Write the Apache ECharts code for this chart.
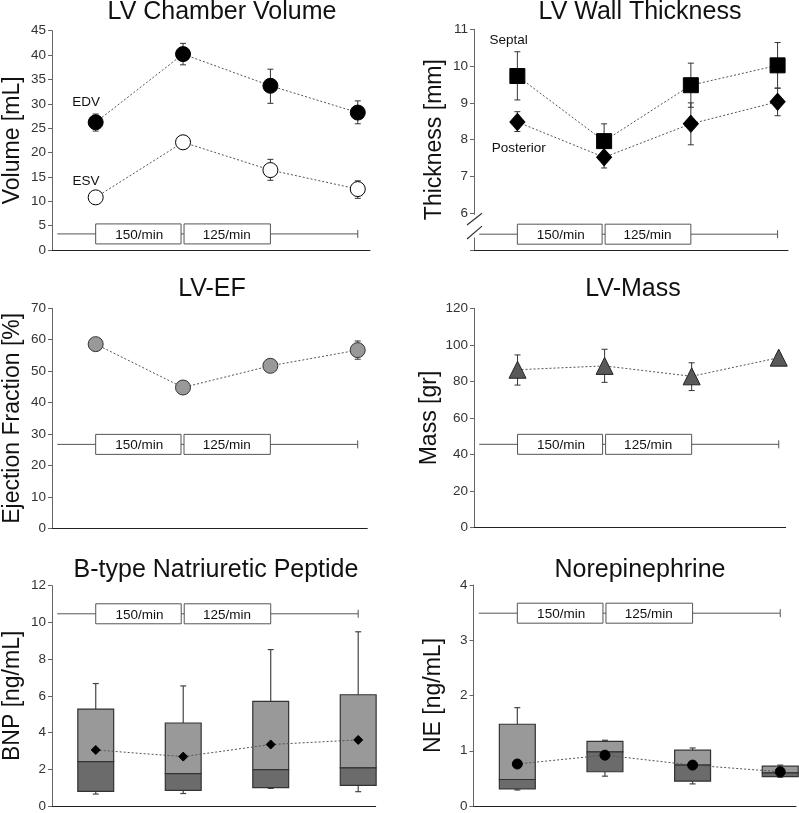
<!DOCTYPE html>
<html><head><meta charset="utf-8">
<script src="https://cdn.jsdelivr.net/npm/echarts@6/dist/echarts.min.js"></script>
<style>html,body{margin:0;padding:0;background:#fff}#c{width:799px;height:813px}</style>
</head><body><div id="c"></div>
<script>
// ---------------- DATA ----------------
const timepoints = [1, 2, 3, 4];
const paceLabels = ['150/min', '125/min'];

// LV Chamber Volume
const edvMean = [26.2, 40.2, 33.7, 28.2];
const edvLow  = [24.4, 38.0, 30.1, 25.9];
const edvHigh = [27.9, 42.4, 37.1, 30.6];
const esvMean = [10.8, 22.1, 16.4, 12.5];
const esvLow  = [10.2, 21.4, 14.3, 10.6];
const esvHigh = [11.4, 22.8, 18.6, 14.2];

// LV Wall Thickness
const septalMean = [9.73, 7.96, 9.48, 10.02];
const septalLow  = [9.08, 7.49, 8.88, 9.40];
const septalHigh = [10.39, 8.43, 10.08, 10.64];
const posteriorMean = [8.48, 7.52, 8.43, 9.03];
const posteriorLow  = [8.22, 7.23, 7.86, 8.65];
const posteriorHigh = [8.76, 7.80, 9.00, 9.40];

// LV-EF
const efMean = [58.6, 44.8, 51.7, 56.7];
const efLow  = [57.6, 43.8, 50.8, 53.8];
const efHigh = [59.6, 45.8, 52.6, 59.6];

// LV-Mass
const massMean = [86.4, 88.5, 82.8, 93.0];
const massLow  = [78.0, 79.5, 75.0, 91.5];
const massHigh = [94.5, 97.6, 90.2, 94.5];

// BNP (box plots)
const bnpMin    = [0.65, 0.68, 0.96, 0.78];
const bnpQ1     = [0.80, 0.85, 1.00, 1.12];
const bnpMedian = [2.42, 1.76, 1.98, 2.08];
const bnpQ3     = [5.28, 4.52, 5.70, 6.06];
const bnpMax    = [6.67, 6.54, 8.52, 9.49];
const bnpMean   = [3.05, 2.69, 3.35, 3.60];

// Norepinephrine (box plots)
const neMin    = [0.29, 0.54, 0.40, 0.52];
const neQ1     = [0.31, 0.62, 0.45, 0.53];
const neMedian = [0.48, 0.98, 0.74, 0.60];
const neQ3     = [1.48, 1.17, 1.01, 0.72];
const neMax    = [1.78, 1.19, 1.05, 0.74];
const neMean   = [0.76, 0.92, 0.74, 0.62];

// texts
const panelTitles = ['LV Chamber Volume', 'LV Wall Thickness', 'LV-EF', 'LV-Mass', 'B-type Natriuretic Peptide', 'Norepinephrine'];
const yAxisNames = ['Volume [mL]', 'Thickness [mm]', 'Ejection Fraction [%]', 'Mass [gr]', 'BNP [ng/mL]', 'NE [ng/mL]'];
const yMin = [0, 5, 0, 0, 0, 0];
const yMax = [45, 11, 70, 120, 12, 4];
const yStep = [5, 1, 10, 20, 2, 1];

// ---------------- LAYOUT / STYLE ----------------
const FONT = 'Liberation Sans, Arial, sans-serif';
const grids = [
  {left: 52,    top: 30.7,  width: 318,   height: 219.3},
  {left: 474,   top: 29.3,  width: 314,   height: 220.7},
  {left: 52,    top: 308.3, width: 315.3, height: 220},
  {left: 474,   top: 308.3, width: 311.7, height: 219.4},
  {left: 52,    top: 585.7, width: 323.7, height: 222},
  {left: 473.5, top: 585,   width: 322.5, height: 222.3}
];
const xMaxes = [4.14, 4.12, 4.11, 4.08, 4.2, 4.18];
const titlePos = [[222, 0], [640, 0], [212, 277], [633, 277], [216, 558], [640, 558]];
const timelineY = [3.3, 5.43, 26.7, 45.6, 10.47, 3.49];
const TL_START = 0.56;

const series = [];

function lineSeries(idx, means, symbol, size, fill, stroke) {
  return {
    type: 'line', xAxisIndex: idx, yAxisIndex: idx, z: 4,
    data: timepoints.map((t, i) => [t, means[i]]),
    symbol: symbol, symbolSize: size, showAllSymbol: true,
    itemStyle: {color: fill, borderColor: stroke, borderWidth: 1, opacity: 1},
    lineStyle: {color: '#555', width: 1, type: [2, 2]},
    emphasis: {disabled: true}, silent: true
  };
}

function errSeries(idx, low, high) {
  return {
    type: 'custom', xAxisIndex: idx, yAxisIndex: idx, z: 3, silent: true,
    data: timepoints.map((t, i) => [t, low[i], high[i]]),
    encode: {x: 0, y: [1, 2]},
    renderItem: function (params, api) {
      const x = api.value(0);
      const lo = api.coord([x, api.value(1)]);
      const hi = api.coord([x, api.value(2)]);
      const st = {stroke: '#333', lineWidth: 1};
      return {type: 'group', children: [
        {type: 'line', shape: {x1: lo[0], y1: lo[1], x2: hi[0], y2: hi[1]}, style: st},
        {type: 'line', shape: {x1: lo[0] - 3, y1: lo[1], x2: lo[0] + 3, y2: lo[1]}, style: st},
        {type: 'line', shape: {x1: hi[0] - 3, y1: hi[1], x2: hi[0] + 3, y2: hi[1]}, style: st}
      ]};
    }
  };
}

function boxSeries(idx, mn, q1, med, q3, mx) {
  return {
    type: 'custom', xAxisIndex: idx, yAxisIndex: idx, z: 2, silent: true,
    data: timepoints.map((t, i) => [t, mn[i], q1[i], med[i], q3[i], mx[i]]),
    encode: {x: 0, y: [1, 2, 3, 4, 5]},
    renderItem: function (params, api) {
      const x = api.value(0);
      const pMin = api.coord([x, api.value(1)]);
      const pQ1 = api.coord([x, api.value(2)]);
      const pMed = api.coord([x, api.value(3)]);
      const pQ3 = api.coord([x, api.value(4)]);
      const pMax = api.coord([x, api.value(5)]);
      const w = api.size([0.41, 0])[0];
      const cx = pMed[0];
      const st = {stroke: '#444', lineWidth: 1.2};
      return {type: 'group', children: [
        {type: 'line', shape: {x1: cx, y1: pQ3[1], x2: cx, y2: pMax[1]}, style: st},
        {type: 'line', shape: {x1: cx - 3, y1: pMax[1], x2: cx + 3, y2: pMax[1]}, style: st},
        {type: 'line', shape: {x1: cx, y1: pQ1[1], x2: cx, y2: pMin[1]}, style: st},
        {type: 'line', shape: {x1: cx - 3, y1: pMin[1], x2: cx + 3, y2: pMin[1]}, style: st},
        {type: 'rect', shape: {x: cx - w / 2, y: pQ3[1], width: w, height: pMed[1] - pQ3[1]},
          style: {fill: '#999999', stroke: '#333', lineWidth: 1.2}},
        {type: 'rect', shape: {x: cx - w / 2, y: pMed[1], width: w, height: pQ1[1] - pMed[1]},
          style: {fill: '#6b6b6b', stroke: '#333', lineWidth: 1.2}}
      ]};
    }
  };
}

function timelineSeries(idx) {
  const yv = timelineY[idx];
  return {
    type: 'custom', xAxisIndex: idx, yAxisIndex: idx, z: 1, silent: true, clip: false,
    data: [[1, yv]],
    renderItem: function (params, api) {
      const p0 = api.coord([TL_START, yv]);
      const p1 = api.coord([1, yv]);
      const p2 = api.coord([2, yv]);
      const p3 = api.coord([3, yv]);
      const p4 = api.coord([4, yv]);
      const h = 20;
      const st = {stroke: '#555', lineWidth: 1};
      const txt = {font: '13.5px ' + FONT, fill: '#111', align: 'center', verticalAlign: 'middle'};
      return {type: 'group', children: [
        {type: 'line', shape: {x1: p0[0], y1: p0[1], x2: p4[0], y2: p4[1]}, style: st},
        {type: 'line', shape: {x1: p4[0], y1: p4[1] - 4, x2: p4[0], y2: p4[1] + 4}, style: st},
        {type: 'rect', shape: {x: p1[0], y: p1[1] - h / 2, width: p2[0] - p1[0] - 2, height: h},
          style: {fill: '#fff', stroke: '#555', lineWidth: 1}},
        {type: 'rect', shape: {x: p2[0] + 1, y: p2[1] - h / 2, width: p3[0] - p2[0] - 1, height: h},
          style: {fill: '#fff', stroke: '#555', lineWidth: 1}},
        {type: 'text', style: Object.assign({text: paceLabels[0], x: (p1[0] + p2[0]) / 2, y: p1[1] + 1}, txt)},
        {type: 'text', style: Object.assign({text: paceLabels[1], x: (p2[0] + p3[0]) / 2, y: p1[1] + 1}, txt)}
      ]};
    }
  };
}

function labelSeries(idx, items) {
  return {
    type: 'custom', xAxisIndex: idx, yAxisIndex: idx, z: 5, silent: true, clip: false,
    data: items.map(it => [it[0], it[1]]),
    renderItem: function (params, api) {
      const p = api.coord([api.value(0), api.value(1)]);
      return {type: 'text', style: {text: items[params.dataIndex][2], x: p[0], y: p[1],
        align: 'center', verticalAlign: 'middle', font: '13.5px ' + FONT, fill: '#111'}};
    }
  };
}

// axis break for panel 2
series.push({
  type: 'custom', xAxisIndex: 1, yAxisIndex: 1, z: 6, silent: true, clip: false,
  data: [[0.5, 5.6]],
  renderItem: function (params, api) {
    const a = api.coord([0.5, 5.96]);
    const b = api.coord([0.5, 5.34]);
    const s1a = api.coord([0.5, 5.68]), s1b = api.coord([0.5, 6.0]);
    const s2a = api.coord([0.5, 5.30]), s2b = api.coord([0.5, 5.65]);
    const st = {stroke: '#333', lineWidth: 1.2};
    return {type: 'group', children: [
      {type: 'rect', shape: {x: a[0] - 3, y: a[1], width: 6, height: b[1] - a[1]}, style: {fill: '#fff'}},
      {type: 'line', shape: {x1: s1a[0] - 7, y1: s1a[1], x2: s1b[0] + 8, y2: s1b[1]}, style: st},
      {type: 'line', shape: {x1: s2a[0] - 7, y1: s2a[1], x2: s2b[0] + 8, y2: s2b[1]}, style: st}
    ]};
  }
});

// Panel 1
series.push(timelineSeries(0));
series.push(errSeries(0, edvLow, edvHigh));
series.push(errSeries(0, esvLow, esvHigh));
series.push(lineSeries(0, edvMean, 'circle', 15, '#000', '#000'));
series.push(lineSeries(0, esvMean, 'circle', 15, '#fff', '#000'));
series.push(labelSeries(0, [[0.89, 30.4, 'EDV'], [0.89, 14.0, 'ESV']]));
// Panel 2
series.push(timelineSeries(1));
series.push(errSeries(1, septalLow, septalHigh));
series.push(errSeries(1, posteriorLow, posteriorHigh));
series.push(lineSeries(1, septalMean, 'rect', 15, '#000', '#000'));
series.push(lineSeries(1, posteriorMean, 'diamond', [15, 17], '#000', '#000'));
series.push(labelSeries(1, [[0.90, 10.71, 'Septal'], [1.015, 7.77, 'Posterior']]));
// Panel 3
series.push(timelineSeries(2));
series.push(errSeries(2, efLow, efHigh));
series.push(lineSeries(2, efMean, 'circle', 15, '#999', '#333'));
// Panel 4
series.push(timelineSeries(3));
series.push(errSeries(3, massLow, massHigh));
series.push(lineSeries(3, massMean, 'triangle', 17, '#595959', '#222'));
// Panel 5
series.push(timelineSeries(4));
series.push(boxSeries(4, bnpMin, bnpQ1, bnpMedian, bnpQ3, bnpMax));
series.push(lineSeries(4, bnpMean, 'diamond', 9, '#000', '#000'));
// Panel 6
series.push(timelineSeries(5));
series.push(boxSeries(5, neMin, neQ1, neMedian, neQ3, neMax));
series.push(lineSeries(5, neMean, 'circle', 10, '#000', '#000'));

const option = {
  animation: false,
  backgroundColor: '#fff',
  title: panelTitles.map((t, i) => ({
    text: t, left: titlePos[i][0], top: titlePos[i][1], textAlign: 'center', padding: 0,
    textStyle: {fontSize: 25, fontWeight: 'normal', color: '#111', fontFamily: FONT}
  })),
  grid: grids.map(g => Object.assign({containLabel: false}, g)),
  xAxis: grids.map((g, i) => ({
    type: 'value', gridIndex: i, min: 0.5, max: xMaxes[i],
    axisLine: {show: true, onZero: false, lineStyle: {color: '#222', width: 1}},
    axisTick: {show: false}, axisLabel: {show: false}, splitLine: {show: false}
  })),
  yAxis: grids.map((g, i) => ({
    type: 'value', gridIndex: i, min: yMin[i], max: yMax[i], interval: yStep[i],
    axisLine: {show: true, onZero: false, lineStyle: {color: '#666', width: 1}},
    axisTick: {show: true, inside: false, length: 4, lineStyle: {color: '#666'}},
    axisLabel: {fontSize: 13.5, color: '#333', margin: 6, fontFamily: FONT,
      formatter: v => (i === 1 && v === 5) ? '' : String(v)},
    splitLine: {show: false},
    name: yAxisNames[i], nameLocation: 'middle', nameGap: 28,
    nameTextStyle: {fontSize: 23, color: '#111', fontFamily: FONT}
  })),
  series: series
};

const chart = echarts.init(document.getElementById('c'), null, {renderer: 'canvas'});
chart.setOption(option);
</script>
</body></html>
